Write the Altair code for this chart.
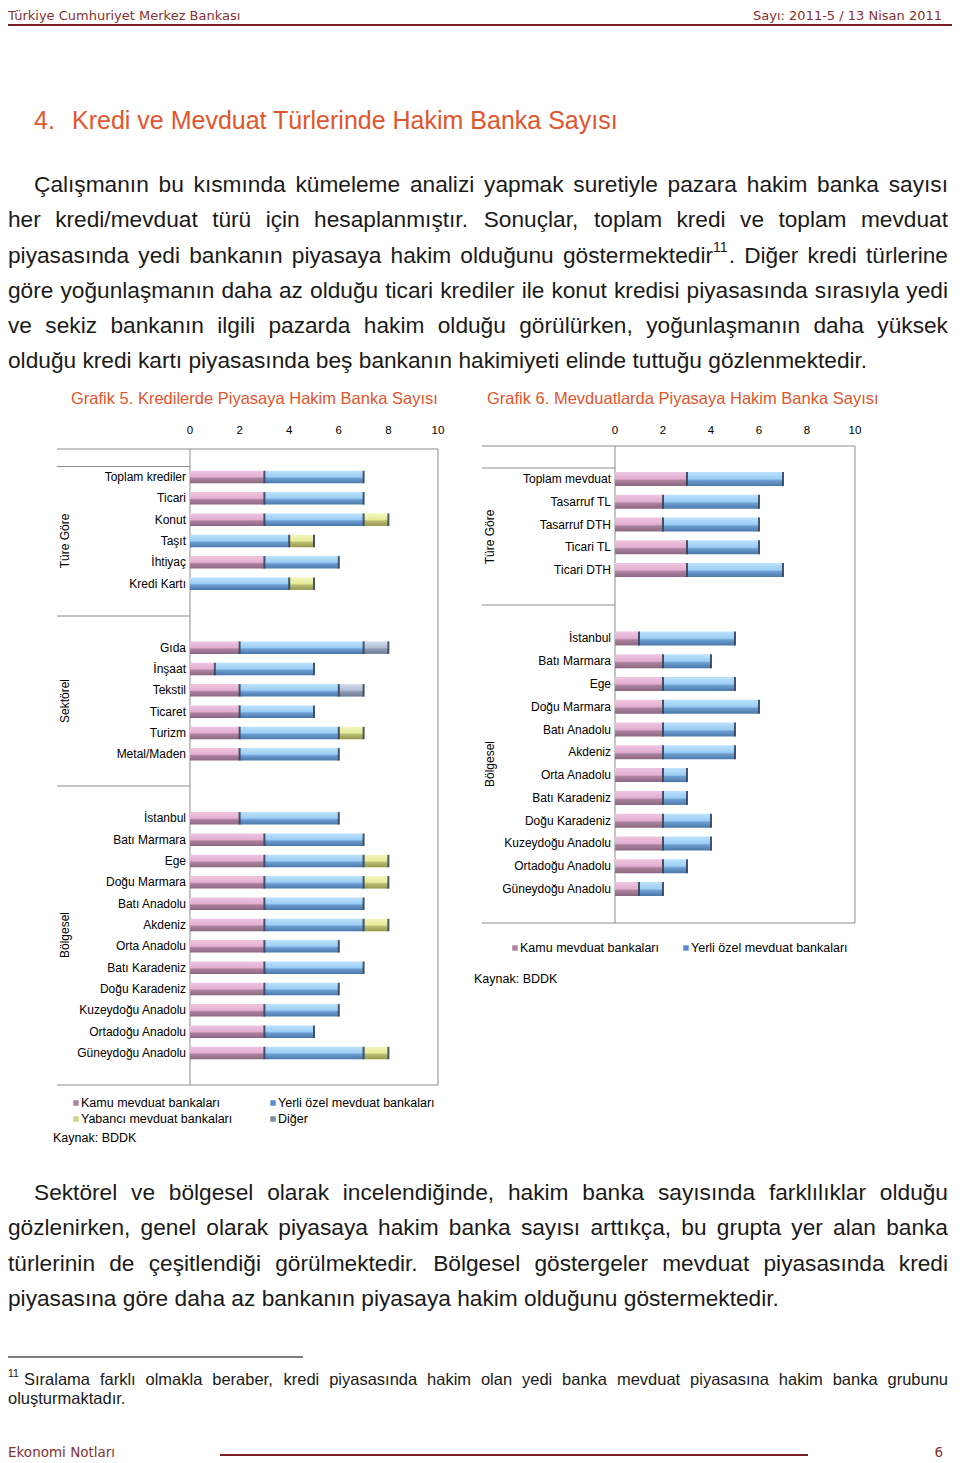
import altair as alt
import pandas as pd

# ------------------------------------------------------------------ data
SERIES = ["Kamu mevduat bankaları", "Yerli özel mevduat bankaları",
          "Yabancı mevduat bankaları", "Diğer"]
TICKS = [0, 2, 4, 6, 8, 10]

# Grafik 5 - Kredilerde Piyasaya Hakim Banka Sayısı
kredi_tur = ["Toplam krediler", "Ticari", "Konut", "Taşıt", "İhtiyaç", "Kredi Kartı"]
kredi_tur_kamu = [3, 3, 3, 0, 3, 0]
kredi_tur_yerli = [4, 4, 4, 4, 3, 4]
kredi_tur_yabanci = [0, 0, 1, 1, 0, 1]
kredi_tur_diger = [0, 0, 0, 0, 0, 0]

kredi_sektor = ["Gıda", "İnşaat", "Tekstil", "Ticaret", "Turizm", "Metal/Maden"]
kredi_sektor_kamu = [2, 1, 2, 2, 2, 2]
kredi_sektor_yerli = [5, 4, 4, 3, 4, 4]
kredi_sektor_yabanci = [0, 0, 0, 0, 1, 0]
kredi_sektor_diger = [1, 0, 1, 0, 0, 0]

bolgeler = ["İstanbul", "Batı Marmara", "Ege", "Doğu Marmara", "Batı Anadolu",
            "Akdeniz", "Orta Anadolu", "Batı Karadeniz", "Doğu Karadeniz",
            "Kuzeydoğu Anadolu", "Ortadoğu Anadolu", "Güneydoğu Anadolu"]
kredi_bolge_kamu = [2, 3, 3, 3, 3, 3, 3, 3, 3, 3, 3, 3]
kredi_bolge_yerli = [4, 4, 4, 4, 4, 4, 3, 4, 3, 3, 2, 4]
kredi_bolge_yabanci = [0, 0, 1, 1, 0, 1, 0, 0, 0, 0, 0, 1]
kredi_bolge_diger = [0] * 12

# Grafik 6 - Mevduatlarda Piyasaya Hakim Banka Sayısı
mevduat_tur = ["Toplam mevduat", "Tasarruf TL", "Tasarruf DTH", "Ticari TL", "Ticari DTH"]
mevduat_tur_kamu = [3, 2, 2, 3, 3]
mevduat_tur_yerli = [4, 4, 4, 3, 4]
mevduat_bolge_kamu = [1, 2, 2, 2, 2, 2, 2, 2, 2, 2, 2, 1]
mevduat_bolge_yerli = [4, 2, 3, 4, 3, 3, 1, 1, 2, 2, 1, 1]

# Text of the page
header_left = "Türkiye Cumhuriyet Merkez Bankası"
header_right = "Sayı: 2011-5 / 13 Nisan 2011"
section_no = "4."
section_title = "Kredi ve Mevduat Türlerinde Hakim Banka Sayısı"
para1 = [
    "Çalışmanın bu kısmında kümeleme analizi yapmak suretiyle pazara hakim banka sayısı",
    "her kredi/mevduat türü için hesaplanmıştır. Sonuçlar, toplam kredi ve toplam mevduat",
    "piyasasında yedi bankanın piyasaya hakim olduğunu göstermektedir^11^. Diğer kredi türlerine",
    "göre yoğunlaşmanın daha az olduğu ticari krediler ile konut kredisi piyasasında sırasıyla yedi",
    "ve sekiz bankanın ilgili pazarda hakim olduğu görülürken, yoğunlaşmanın daha yüksek",
    "olduğu kredi kartı piyasasında beş bankanın hakimiyeti elinde tuttuğu gözlenmektedir.",
]
title5 = "Grafik 5. Kredilerde Piyasaya Hakim Banka Sayısı"
title6 = "Grafik 6. Mevduatlarda Piyasaya Hakim Banka Sayısı"
group_tur = "Türe Göre"
group_sektor = "Sektörel"
group_bolge = "Bölgesel"
source = "Kaynak: BDDK"
para2 = [
    "Sektörel ve bölgesel olarak incelendiğinde, hakim banka sayısında farklılıklar olduğu",
    "gözlenirken, genel olarak piyasaya hakim banka sayısı arttıkça, bu grupta yer alan banka",
    "türlerinin de çeşitlendiği görülmektedir. Bölgesel göstergeler mevduat piyasasında kredi",
    "piyasasına göre daha az bankanın piyasaya hakim olduğunu göstermektedir.",
]
footnote_mark = "11"
footnote = [
    "Sıralama farklı olmakla beraber, kredi piyasasında hakim olan yedi banka mevduat piyasasına hakim banka grubunu",
    "oluşturmaktadır.",
]
footer_left = "Ekonomi Notları"
footer_right = "6"

# ------------------------------------------------------------------ helpers
OX, OY = 8, 8


def px(x):
    return x - OX


def py(y):
    return y - OY


FONT = "Liberation Sans"
HFONT = "DejaVu Sans"
TEXT = "#1a1a1a"
ORANGE = "#E2552D"
MAROON = "#843232"
GRID = "#8c8c8c"

# Helvetica / Arial advance widths (1/1000 em)
W = {" ": 278, ",": 278, ".": 278, ":": 278, ";": 278, "/": 278, "-": 333,
     "(": 333, ")": 333, "'": 191, "?": 556}
for c in "0123456789":
    W[c] = 556
W.update(dict(zip("ABCDEFGHIJKLMNOPQRSTUVWXYZ",
                  [667, 667, 722, 722, 667, 611, 778, 722, 278, 500, 667, 556, 833,
                   722, 778, 667, 778, 722, 667, 611, 722, 667, 944, 667, 667, 611])))
W.update(dict(zip("abcdefghijklmnopqrstuvwxyz",
                  [556, 556, 500, 556, 556, 278, 556, 556, 222, 222, 500, 222, 833,
                   556, 556, 556, 556, 333, 500, 278, 556, 500, 722, 500, 500, 500])))
W.update({"ç": 500, "ğ": 556, "ı": 278, "ş": 500, "ö": 556, "ü": 556,
          "Ç": 722, "Ğ": 778, "İ": 278, "Ş": 667, "Ö": 778, "Ü": 722})


def tw(s, size):
    return sum(W.get(c, 556) for c in s) * size / 1000.0


def layout_line(line, x_start, x_end, y, size, sup_size, justify):
    x_start = max(x_start, OX)
    parsed = []
    for word in line.split(" "):
        segs = []
        for k, part in enumerate(word.split("^")):
            if part:
                segs.append((part, k % 2 == 1))
        parsed.append(segs)
    widths = [sum(tw(p, sup_size if s else size) for p, s in segs) for segs in parsed]
    n = len(parsed)
    if justify and n > 1:
        gap = (x_end - x_start - sum(widths)) / (n - 1)
    else:
        gap = tw(" ", size)
    x = x_start
    main, sup = [], []
    for segs, wdt in zip(parsed, widths):
        xx = x
        for p, s in segs:
            (sup if s else main).append(dict(w=p, x=px(xx), y=py(y)))
            xx += tw(p, sup_size if s else size)
        x += wdt + gap
    return main, sup


def text_layer(rows, size, color=TEXT, dy=0):
    return alt.Chart(pd.DataFrame(rows)).mark_text(
        align="left", baseline="middle", font=FONT, fontSize=size, color=color, dy=dy
    ).encode(x=alt.X("x:Q", scale=None), y=alt.Y("y:Q", scale=None), text="w:N")


def label(text, x, y, size, color="#000000", align="left", font=FONT, angle=0):
    return alt.Chart().mark_text(
        text=text, align=align, baseline="middle", fontSize=size, font=font,
        color=color, angle=angle
    ).encode(x=alt.value(px(x)), y=alt.value(py(y)))


def rule_h(y, x1, x2, color=GRID, w=1.0):
    return alt.Chart().mark_rule(color=color, strokeWidth=w).encode(
        x=alt.value(px(x1)), x2=alt.value(px(x2)), y=alt.value(py(y)))


def rule_v(x, y1, y2, color=GRID, w=1.0):
    return alt.Chart().mark_rule(color=color, strokeWidth=w).encode(
        x=alt.value(px(x)), y=alt.value(py(y1)), y2=alt.value(py(y2)))


GRAD_COLORS = {
    SERIES[0]: ["#efc6e1", "#e2aed0", "#ad839e", "#8a6680"],
    SERIES[1]: ["#bde2fc", "#9acdf4", "#6e9fd3", "#4a77a8"],
    SERIES[2]: ["#f4f6bc", "#e6eb9a", "#bcbe74", "#95964d"],
    SERIES[3]: ["#d2dbea", "#b0bdd5", "#8f9cb4", "#6c7a92"],
}
MARKER_COLORS = ["#b4809f", "#5b8fc9", "#cfd67f", "#7d8ca8"]


def grad(cols):
    return alt.Gradient(
        gradient="linear", x1=0, x2=0, y1=0, y2=1,
        stops=[alt.GradientStop(color=cols[0], offset=0),
               alt.GradientStop(color=cols[1], offset=0.5),
               alt.GradientStop(color=cols[2], offset=0.6),
               alt.GradientStop(color=cols[3], offset=1)])


def stacked(cats, series_vals):
    rows = []
    for i, c in enumerate(cats):
        start = 0
        for s, vals in zip(SERIES, series_vals):
            v = vals[i]
            if v > 0:
                rows.append(dict(cat=c, series=s, v=v, x0=start, x1=start + v))
            start += v
    return pd.DataFrame(rows)


def bar_chart(df, cats, dom, xr, yr, bh, label_x):
    xs = alt.Scale(domain=[0, 10], range=[px(xr[0]), px(xr[1])], nice=False, zero=False)
    ys = alt.Scale(domain=dom, range=[py(yr[0]), py(yr[1])], paddingInner=0, paddingOuter=0)
    out = []
    for s in SERIES:
        sub = df[df.series == s]
        if len(sub) == 0:
            continue
        out.append(alt.Chart(sub).mark_bar(size=bh, color=grad(GRAD_COLORS[s])).encode(
            x=alt.X("x0:Q", scale=xs, axis=None), x2="x1:Q",
            y=alt.Y("cat:N", scale=ys, axis=None)))
    out.append(alt.Chart(df).mark_tick(orient="vertical", size=bh, thickness=2,
                                       color="#35425c", opacity=0.9).encode(
        x=alt.X("x1:Q", scale=xs, axis=None), y=alt.Y("cat:N", scale=ys, axis=None)))
    out.append(alt.Chart(pd.DataFrame({"t": TICKS})).mark_text(
        font=FONT, fontSize=11.5, baseline="middle", color="#000000").encode(
        x=alt.X("t:Q", scale=xs, axis=None), y=alt.value(py(431)), text="t:Q"))
    out.append(alt.Chart(pd.DataFrame({"cat": cats})).mark_text(
        font=FONT, fontSize=12, align="right", baseline="middle", color="#000000").encode(
        x=alt.value(px(label_x)), y=alt.Y("cat:N", scale=ys, axis=None), text="cat:N"))
    return out


def legend(names, xs_r, ys_r, ncol):
    d = pd.DataFrame({"name": names,
                      "col": [i % ncol for i in range(len(names))],
                      "row": [i // ncol for i in range(len(names))]})
    xsc = alt.Scale(domain=[0, max(1, ncol - 1)], range=[px(xs_r[0]), px(xs_r[1])])
    ysc = alt.Scale(domain=[0, 1], range=[py(ys_r[0]), py(ys_r[1])])
    csc = alt.Scale(domain=SERIES, range=MARKER_COLORS)
    m = alt.Chart(d).mark_square(size=30, opacity=1).encode(
        x=alt.X("col:Q", scale=xsc, axis=None), y=alt.Y("row:Q", scale=ysc, axis=None),
        color=alt.Color("name:N", scale=csc, legend=None))
    t = alt.Chart(d).mark_text(font=FONT, fontSize=12.5, align="left", baseline="middle",
                               dx=5, color="#000000").encode(
        x=alt.X("col:Q", scale=xsc, axis=None), y=alt.Y("row:Q", scale=ysc, axis=None),
        text="name:N")
    return [m, t]


layers = []

# ------------------------------------------------------------------ header / footer
layers.append(label(header_left, 8, 15.5, 13, color=MAROON, font=HFONT))
layers.append(label(header_right, 942, 15.5, 13, color=MAROON, font=HFONT, align="right"))
layers.append(rule_h(25, 8, 952, color="#7a1e22", w=2.2))
layers.append(label(footer_left, 8, 1453, 13.5, color=MAROON, font=HFONT))
layers.append(label(footer_right, 943, 1453, 13.5, color=MAROON, font=HFONT, align="right"))
layers.append(rule_h(1455, 220, 808, color="#7a1e22", w=2.2))

# ------------------------------------------------------------------ title + paragraphs
layers.append(label(section_no, 34, 121, 25, color=ORANGE))
layers.append(label(section_title, 72, 121, 25, color=ORANGE))

BODY = 22.7
main_rows, sup_rows = [], []
p1_y = [185, 220, 255.5, 291, 326, 361]
for i, (line, y) in enumerate(zip(para1, p1_y)):
    m, s = layout_line(line, 34 if i == 0 else 5, 948, y, BODY, 14, i < len(para1) - 1)
    main_rows += m
    sup_rows += s
p2_y = [1193, 1228, 1264, 1299]
for i, (line, y) in enumerate(zip(para2, p2_y)):
    m, s = layout_line(line, 34 if i == 0 else 5, 948, y, BODY, 14, i < len(para2) - 1)
    main_rows += m
    sup_rows += s
layers.append(text_layer(main_rows, BODY))
layers.append(text_layer(sup_rows, 14, dy=-7.5))

FN = 16.5
fn_rows = []
m, _ = layout_line(footnote[0], 24, 948, 1380, FN, 10, True)
fn_rows += m
m, _ = layout_line(footnote[1], 5, 948, 1399, FN, 10, False)
fn_rows += m
layers.append(text_layer(fn_rows, FN))
layers.append(label(footnote_mark, 8, 1374, 10.5, color=TEXT))
layers.append(rule_h(1357, 8, 303, color="#000000", w=1))

# ------------------------------------------------------------------ Grafik 5
layers.append(label(title5, 71, 399, 16.5, color=ORANGE))
df5 = pd.concat([
    stacked(kredi_tur, [kredi_tur_kamu, kredi_tur_yerli, kredi_tur_yabanci, kredi_tur_diger]),
    stacked(kredi_sektor, [kredi_sektor_kamu, kredi_sektor_yerli, kredi_sektor_yabanci, kredi_sektor_diger]),
    stacked(bolgeler, [kredi_bolge_kamu, kredi_bolge_yerli, kredi_bolge_yabanci, kredi_bolge_diger]),
])
cats5 = kredi_tur + kredi_sektor + bolgeler
dom5 = ["_t"] + kredi_tur + ["_a", "_b"] + kredi_sektor + ["_c", "_d"] + bolgeler + ["_e"]
layers += [rule_v(190, 449, 1085), rule_v(438, 449, 1085), rule_h(449, 57, 438),
           rule_h(466.5, 57, 190), rule_h(616, 57, 190), rule_h(786, 57, 190),
           rule_h(1085, 57, 438)]
layers += bar_chart(df5, cats5, dom5, (190, 438), (445, 1085), 12.5, 186)
layers.append(label(group_tur, 65, 541, 12, angle=270, align="center"))
layers.append(label(group_sektor, 65, 701, 12, angle=270, align="center"))
layers.append(label(group_bolge, 65, 935, 12, angle=270, align="center"))
layers += legend(SERIES, (76, 273), (1103, 1119), 2)
layers.append(label(source, 53, 1138, 12.5))

# ------------------------------------------------------------------ Grafik 6
layers.append(label(title6, 487, 399, 16.5, color=ORANGE))
df6 = pd.concat([
    stacked(mevduat_tur, [mevduat_tur_kamu, mevduat_tur_yerli, [0] * 5, [0] * 5]),
    stacked(bolgeler, [mevduat_bolge_kamu, mevduat_bolge_yerli, [0] * 12, [0] * 12]),
])
cats6 = mevduat_tur + bolgeler
dom6 = ["_t"] + mevduat_tur + ["_a", "_b"] + bolgeler + ["_e"]
layers += [rule_v(615, 446, 923), rule_v(855, 446, 923), rule_h(446, 482, 855),
           rule_h(468, 482, 615), rule_h(605, 482, 615), rule_h(923, 482, 855)]
layers += bar_chart(df6, cats6, dom6, (615, 855), (444.8, 923.2), 14, 611)
layers.append(label(group_tur, 490, 537, 12, angle=270, align="center"))
layers.append(label(group_bolge, 490, 764, 12, angle=270, align="center"))
layers += legend(SERIES[:2], (515, 686), (948, 964), 2)
layers.append(label(source, 474, 979, 12.5))

chart = alt.layer(*layers).properties(
    width=944, height=1455, padding=0,
    autosize=alt.AutoSizeParams(type="none"),
).resolve_scale(x="independent", y="independent", color="independent").configure_view(
    strokeWidth=0)

chart.save("out.html", embed_options={"renderer": "svg", "actions": False})
